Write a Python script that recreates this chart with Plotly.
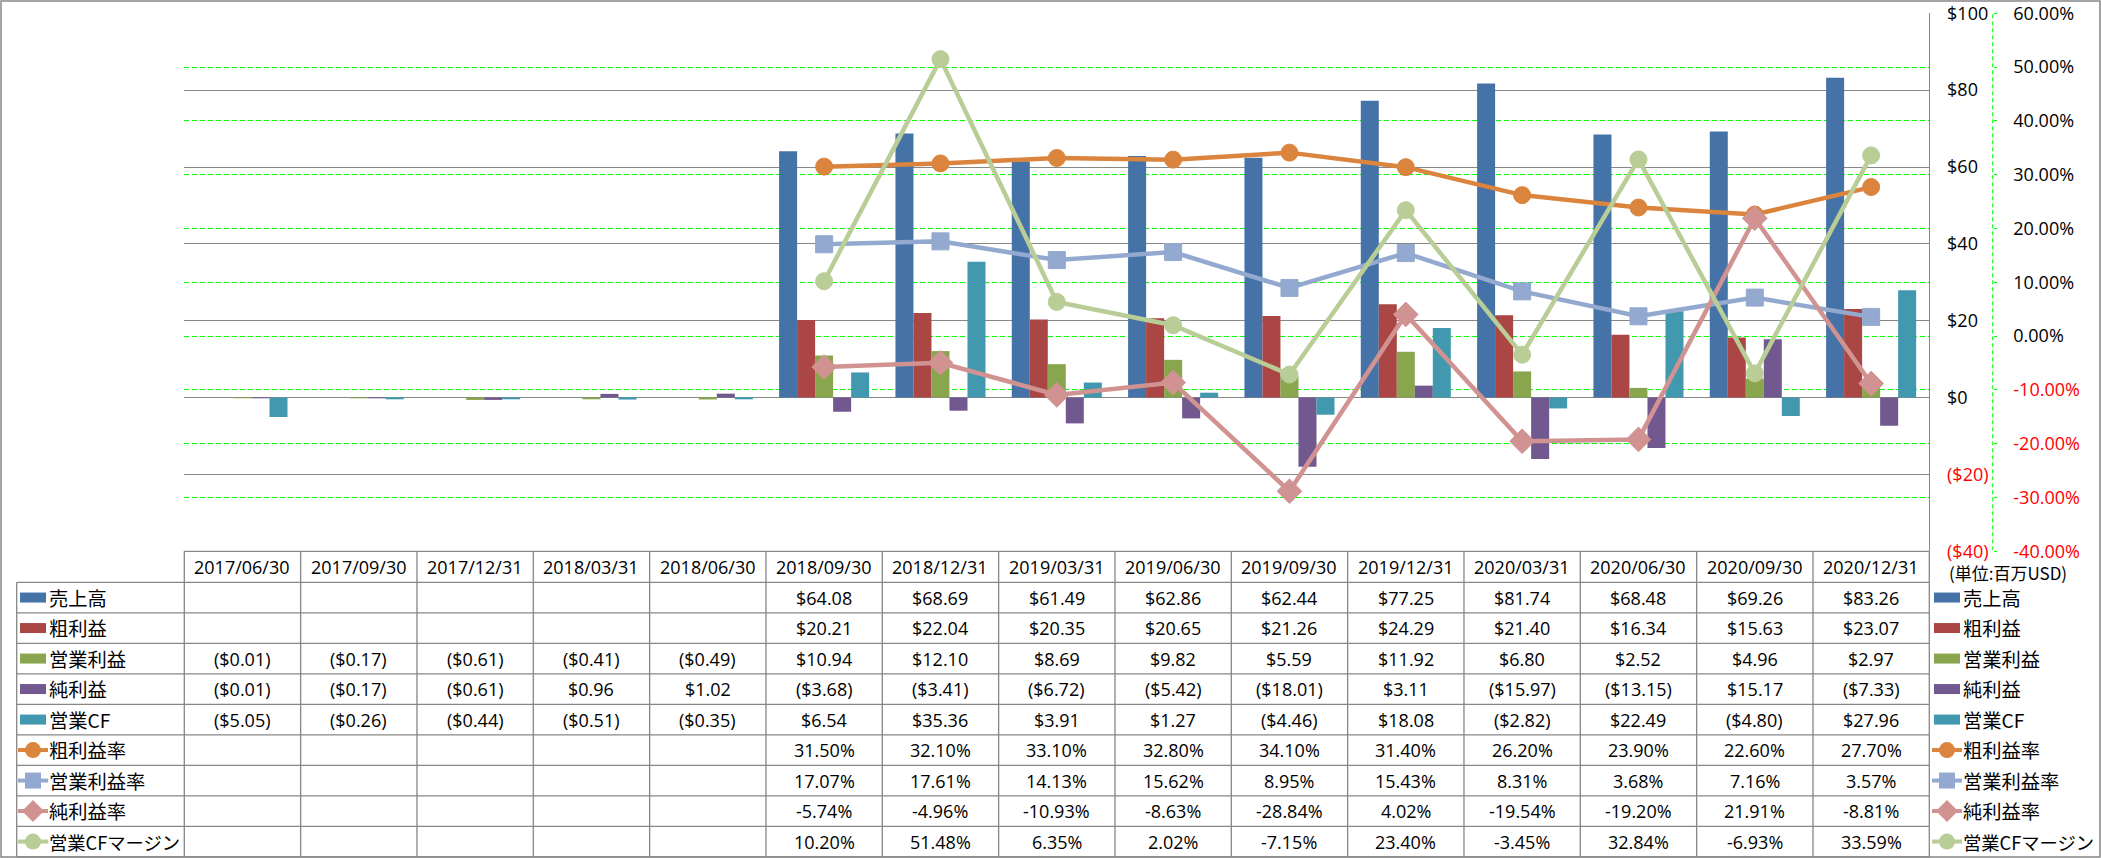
import plotly.graph_objects as go

# ---------------- data ----------------
dates = ["2017/06/30", "2017/09/30", "2017/12/31", "2018/03/31", "2018/06/30",
         "2018/09/30", "2018/12/31", "2019/03/31", "2019/06/30", "2019/09/30",
         "2019/12/31", "2020/03/31", "2020/06/30", "2020/09/30", "2020/12/31"]

sales = [None, None, None, None, None, 64.08, 68.69, 61.49, 62.86, 62.44, 77.25, 81.74, 68.48, 69.26, 83.26]
gross = [None, None, None, None, None, 20.21, 22.04, 20.35, 20.65, 21.26, 24.29, 21.40, 16.34, 15.63, 23.07]
op_inc = [-0.01, -0.17, -0.61, -0.41, -0.49, 10.94, 12.10, 8.69, 9.82, 5.59, 11.92, 6.80, 2.52, 4.96, 2.97]
net_inc = [-0.01, -0.17, -0.61, 0.96, 1.02, -3.68, -3.41, -6.72, -5.42, -18.01, 3.11, -15.97, -13.15, 15.17, -7.33]
op_cf = [-5.05, -0.26, -0.44, -0.51, -0.35, 6.54, 35.36, 3.91, 1.27, -4.46, 18.08, -2.82, 22.49, -4.80, 27.96]

gross_margin = [None, None, None, None, None, 31.50, 32.10, 33.10, 32.80, 34.10, 31.40, 26.20, 23.90, 22.60, 27.70]
op_margin = [None, None, None, None, None, 17.07, 17.61, 14.13, 15.62, 8.95, 15.43, 8.31, 3.68, 7.16, 3.57]
net_margin = [None, None, None, None, None, -5.74, -4.96, -10.93, -8.63, -28.84, 4.02, -19.54, -19.20, 21.91, -8.81]
cf_margin = [None, None, None, None, None, 10.20, 51.48, 6.35, 2.02, -7.15, 23.40, -3.45, 32.84, -6.93, 33.59]

bar_names = ["売上高", "粗利益", "営業利益", "純利益", "営業CF"]
bar_values = [sales, gross, op_inc, net_inc, op_cf]
bar_colors = ["#4572A7", "#AA4643", "#89A54E", "#71588F", "#4198AF"]

line_names = ["粗利益率", "営業利益率", "純利益率", "営業CFマージン"]
line_values = [gross_margin, op_margin, net_margin, cf_margin]
line_colors = ["#DB843D", "#93A9CF", "#D19392", "#B9CD96"]
line_symbols = ["circle", "square", "diamond", "circle"]
line_sizes = [17, 17, 19, 17]

usd_ticks = [-40, -20, 0, 20, 40, 60, 80, 100]
pct_ticks = [-40, -30, -20, -10, 0, 10, 20, 30, 40, 50, 60]
unit_label = "(単位:百万USD)"

# ---------------- geometry ----------------
W, H = 2101, 858
PL, PR, PT, PB = 184.3, 1929.3, 13.3, 551.3
COLW = (PR - PL) / len(dates)
ROW_H = 30.5
HDR_TOP = PB
ROW_TOP = PB + 31.0
RH_LEFT = 16.7
Y2_X = 1992.7
GRAY = "#878787"
RED = "#FF0000"
NUM_FONT = "Open Sans, Noto Sans CJK JP, sans-serif"
CJK_FONT = "Noto Sans CJK JP, Open Sans, sans-serif"
NUM_SIZE = 18
CJK_SIZE = 19.3


def fx(x):
    return x / W


def fy(y):
    return 1 - y / H


def fmt_usd(v):
    if v is None:
        return ""
    return f"${v:.2f}" if v >= 0 else f"(${-v:.2f})"


def fmt_pct(v):
    if v is None:
        return ""
    return f"{v:.2f}%"


fig = go.Figure()

for name, vals, col in zip(bar_names, bar_values, bar_colors):
    fig.add_trace(go.Bar(x=dates, y=vals, name=name, marker_color=col,
                         marker_line_width=0, yaxis="y", showlegend=False))

for name, vals, col, sym, sz in zip(line_names, line_values, line_colors, line_symbols, line_sizes):
    fig.add_trace(go.Scatter(x=dates, y=vals, name=name, mode="lines+markers",
                             line=dict(color=col, width=4.5),
                             marker=dict(symbol=sym, size=sz, color=col,
                                         line=dict(color=col, width=1)),
                             yaxis="y2", showlegend=False))


def usd_tick(v):
    if v < 0:
        return f"<span style='color:{RED}'>(${-v})</span>"
    return f"${v}"


def pct_tick(v):
    if v < 0:
        return f"<span style='color:{RED}'>{v:.2f}%</span>"
    return f"{v:.2f}%"


shapes = []
annotations = []

# figure border
shapes.append(dict(type="rect", xref="paper", yref="paper",
                   x0=fx(1), x1=fx(2100), y0=fy(857), y1=fy(1),
                   line=dict(color=GRAY, width=1.5), layer="above"))

# secondary axis dashed line
shapes.append(dict(type="line", xref="paper", yref="paper",
                   x0=fx(Y2_X), x1=fx(Y2_X), y0=fy(PB - 1), y1=fy(PT),
                   line=dict(color="#00FF00", width=1, dash="4px,3px")))

# table horizontal lines
shapes.append(dict(type="line", xref="paper", yref="paper",
                   x0=fx(PL), x1=fx(PR), y0=fy(HDR_TOP), y1=fy(HDR_TOP),
                   line=dict(color=GRAY, width=1.3)))
n_rows = len(bar_names) + len(line_names)
for i in range(n_rows + 1):
    yy = ROW_TOP + i * ROW_H
    shapes.append(dict(type="line", xref="paper", yref="paper",
                       x0=fx(RH_LEFT), x1=fx(PR), y0=fy(yy), y1=fy(yy),
                       line=dict(color=GRAY, width=1.3)))
# table vertical lines
shapes.append(dict(type="line", xref="paper", yref="paper",
                   x0=fx(RH_LEFT), x1=fx(RH_LEFT), y0=fy(ROW_TOP), y1=fy(857),
                   line=dict(color=GRAY, width=1.3)))
for k in range(len(dates) + 1):
    xx = PL + k * COLW
    shapes.append(dict(type="line", xref="paper", yref="paper",
                       x0=fx(xx), x1=fx(xx), y0=fy(HDR_TOP), y1=fy(857),
                       line=dict(color=GRAY, width=1.3)))

# header dates
for k, d in enumerate(dates):
    annotations.append(dict(x=fx(PL + (k + 0.5) * COLW), y=fy(HDR_TOP + 15.5),
                            xref="paper", yref="paper", text=d, showarrow=False,
                            xanchor="center", yanchor="middle",
                            font=dict(family=NUM_FONT, size=NUM_SIZE, color="black")))

# rows
row_names = bar_names + line_names
row_values = bar_values + line_values
row_formats = [fmt_usd] * len(bar_names) + [fmt_pct] * len(line_names)
for i, (nm, vals, f) in enumerate(zip(row_names, row_values, row_formats)):
    cy = ROW_TOP + (i + 0.5) * ROW_H
    for k, v in enumerate(vals):
        s = f(v)
        if s:
            annotations.append(dict(x=fx(PL + (k + 0.5) * COLW), y=fy(cy),
                                    xref="paper", yref="paper", text=s, showarrow=False,
                                    xanchor="center", yanchor="middle",
                                    font=dict(family=NUM_FONT, size=NUM_SIZE, color="black")))
    # labels left and right
    lsize = CJK_SIZE if len(nm) < 7 else 18.3
    for tx in (46.5, 1960.5):
        annotations.append(dict(x=fx(tx), y=fy(cy), xref="paper", yref="paper",
                                text=nm, showarrow=False, xanchor="left", yanchor="middle",
                                font=dict(family=CJK_FONT, size=lsize, color="black")))
    # keys
    for kx0 in (20.0, 1934.0):
        if i < len(bar_names):
            shapes.append(dict(type="rect", xref="paper", yref="paper",
                               x0=fx(kx0), x1=fx(kx0 + 26), y0=fy(cy + 5), y1=fy(cy - 5),
                               fillcolor=bar_colors[i], line=dict(width=0)))
        else:
            j = i - len(bar_names)
            col = line_colors[j]
            shapes.append(dict(type="line", xref="paper", yref="paper",
                               x0=fx(kx0 - 2), x1=fx(kx0 + 28), y0=fy(cy), y1=fy(cy),
                               line=dict(color=col, width=4)))
            mx = kx0 + 13
            if line_symbols[j] == "circle":
                shapes.append(dict(type="circle", xref="paper", yref="paper",
                                   x0=fx(mx - 8), x1=fx(mx + 8), y0=fy(cy + 8), y1=fy(cy - 8),
                                   fillcolor=col, line=dict(width=0)))
            elif line_symbols[j] == "square":
                shapes.append(dict(type="rect", xref="paper", yref="paper",
                                   x0=fx(mx - 8), x1=fx(mx + 8), y0=fy(cy + 8), y1=fy(cy - 8),
                                   fillcolor=col, line=dict(width=0)))
            else:
                r = 11
                path = (f"M {fx(mx)},{fy(cy - r)} L {fx(mx + r)},{fy(cy)} "
                        f"L {fx(mx)},{fy(cy + r)} L {fx(mx - r)},{fy(cy)} Z")
                shapes.append(dict(type="path", xref="paper", yref="paper", path=path,
                                   fillcolor=col, line=dict(width=0)))

# unit label
annotations.append(dict(x=fx(1947), y=fy(572), xref="paper", yref="paper",
                        text=unit_label, showarrow=False, xanchor="left", yanchor="middle",
                        font=dict(family=CJK_FONT, size=17, color="black")))

fig.update_layout(
    width=W, height=H,
    margin=dict(l=0, r=0, t=0, b=0),
    paper_bgcolor="white", plot_bgcolor="rgba(0,0,0,0)",
    barmode="group", bargap=0.226, bargroupgap=0,
    font=dict(family=NUM_FONT, size=NUM_SIZE, color="black"),
    xaxis=dict(domain=[fx(PL), fx(PR)], type="category", categoryorder="array",
               categoryarray=dates, range=[-0.5, len(dates) - 0.5],
               showticklabels=False, showgrid=False, zeroline=False, showline=False,
               ticks=""),
    yaxis=dict(domain=[fy(PB), fy(PT)], range=[-40, 100], side="right",
               tickvals=usd_ticks, ticktext=[usd_tick(v) for v in usd_ticks],
               showgrid=True, gridcolor=GRAY, gridwidth=1.3, zeroline=False,
               showline=True, linecolor=GRAY, linewidth=1.3, ticks="",
               ticklabelstandoff=13, automargin=False,
               tickfont=dict(family=NUM_FONT, size=NUM_SIZE, color="black")),
    yaxis2=dict(overlaying="y", anchor="free", position=fx(Y2_X), side="right",
                range=[-40, 60], tickvals=pct_ticks, ticktext=[pct_tick(v) for v in pct_ticks],
                showgrid=True, gridcolor="#00FF00", griddash="5px,3px", gridwidth=1,
                zeroline=False, showline=False, ticks="outside", ticklen=3,
                tickcolor="#00FF00", ticklabelstandoff=13, automargin=False,
                tickfont=dict(family=NUM_FONT, size=NUM_SIZE, color="black")),
    shapes=shapes, annotations=annotations,
)

fig.write_html("out.html", config={"displayModeBar": False},
               post_script="document.body.style.margin='0';document.body.style.overflow='hidden';")
